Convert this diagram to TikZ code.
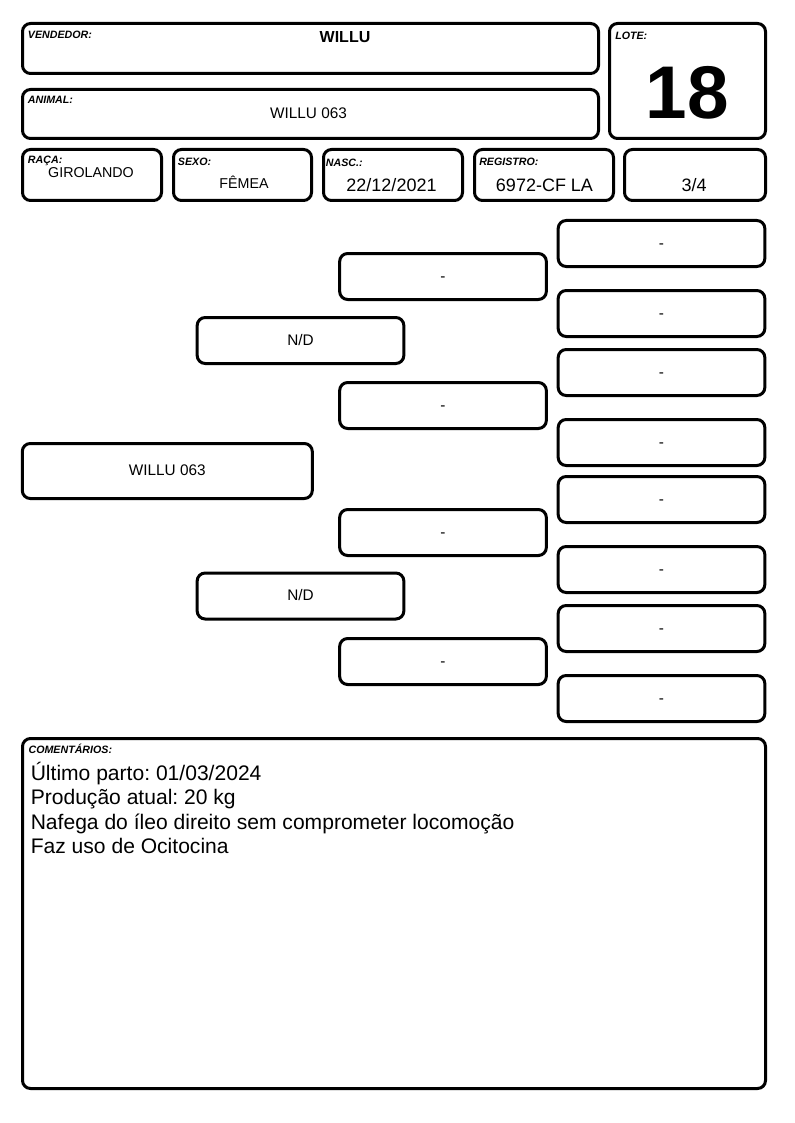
\documentclass[tikz,border=0pt]{standalone}
\usepackage{fontspec}
\setmainfont{Liberation Sans}
\frenchspacing
\begin{document}
\begin{tikzpicture}[x=0.75pt,y=-0.75pt,
  caixa/.style={draw, line width=2.25pt, rounded corners=6pt, inner sep=0pt},
  rotulo/.style={anchor=base west, inner sep=0pt, font=\fontsize{8}{9}\selectfont\bfseries\itshape},
  valor/.style={anchor=base, inner sep=0pt},
  arvore/.style={caixa, minimum width=155pt, minimum height=34.5pt, text height=0.72em, text depth=0pt, font=\fontsize{11.5}{13}\selectfont}]
\useasboundingbox (0,0) rectangle (794,1123);
% cabecalho
\node[caixa, minimum width=432pt, minimum height=37.5pt] (vendedor) at (310.5,48.5) {};
\node[caixa, minimum width=432pt, minimum height=36.75pt] (animal) at (310.5,114) {};
\node[caixa, minimum width=117pt, minimum height=86.25pt] (lote) at (687.5,81) {};
\node[caixa, minimum width=104.25pt, minimum height=38.25pt] (raca) at (92,175) {};
\node[caixa, minimum width=103.5pt, minimum height=38.25pt] (sexo) at (242.5,175) {};
\node[caixa, minimum width=104.25pt, minimum height=38.25pt] (nasc) at (393,175) {};
\node[caixa, minimum width=104.25pt, minimum height=38.25pt] (registro) at (544,175) {};
\node[caixa, minimum width=105.75pt, minimum height=38.25pt] (fracao) at (695,175) {};
\node[rotulo] (vendedorrot) at (27.7,39) {VENDEDOR:};
\node[rotulo] (animalrot) at (27.7,103.3) {ANIMAL:};
\node[rotulo] (loterot) at (615,39.5) {LOTE:};
\node[rotulo] (racarot) at (27.7,164) {RAÇA:};
\node[rotulo] (sexorot) at (177.7,166) {SEXO:};
\node[rotulo] (nascrot) at (325.7,166.5) {NASC.:};
\node[rotulo] (registrorot) at (479,165.5) {REGISTRO:};
\node[valor, font=\fontsize{12}{14}\selectfont\bfseries] (vendedorval) at (345,43) {WILLU};
\node[valor, font=\fontsize{11.5}{13}\selectfont] (animalval) at (308.5,119) {WILLU 063};
\node[valor, font=\fontsize{56}{60}\selectfont\bfseries] (loteval) at (687.5,119) {18};
\node[valor, font=\fontsize{10.7}{12}\selectfont] (racaval) at (91,178) {GIROLANDO};
\node[valor, font=\fontsize{10.7}{12}\selectfont] (sexoval) at (244,189) {FÊMEA};
\node[valor, font=\fontsize{13.5}{15}\selectfont] (nascval) at (391.5,192) {22/12/2021};
\node[valor, font=\fontsize{13.5}{15}\selectfont] (registroval) at (544.5,192) {6972-CF LA};
\node[valor, font=\fontsize{13.5}{15}\selectfont] (fracaoval) at (694,192) {3/4};
% genealogia
\node[arvore, minimum width=217.5pt, minimum height=41.25pt] (1) at (167.3,471) {WILLU 063};
\node[arvore] (2) at (300.5,340.5) {N/D};
\node[arvore] (3) at (300.5,596) {N/D};
\node[arvore] (4) at (443,276.5) {-};
\node[arvore] (5) at (443,405.5) {-};
\node[arvore] (6) at (443,532.5) {-};
\node[arvore] (7) at (443,661.5) {-};
\node[arvore] (8) at (661.5,243.5) {-};
\node[arvore] (9) at (661.5,313.5) {-};
\node[arvore] (10) at (661.5,372.5) {-};
\node[arvore] (11) at (661.5,442.5) {-};
\node[arvore] (12) at (661.5,499.5) {-};
\node[arvore] (13) at (661.5,569.5) {-};
\node[arvore] (14) at (661.5,628.5) {-};
\node[arvore] (15) at (661.5,698.5) {-};
% comentarios
\node[caixa, minimum width=557.25pt, minimum height=262.5pt] (comentarios) at (394,913.5) {};
\node[rotulo] (comentariosrot) at (28.3,753) {COMENTÁRIOS:};
\node[anchor=base west, inner sep=0pt, font=\fontsize{15.8}{18}\selectfont] (linha1) at (30.5,780.5) {Último parto: 01/03/2024};
\node[anchor=base west, inner sep=0pt, font=\fontsize{15.8}{18}\selectfont] (linha2) at (30.5,804.5) {Produção atual: 20 kg};
\node[anchor=base west, inner sep=0pt, font=\fontsize{15.8}{18}\selectfont] (linha3) at (30.5,829) {Nafega do íleo direito sem comprometer locomoção};
\node[anchor=base west, inner sep=0pt, font=\fontsize{15.8}{18}\selectfont] (linha4) at (30.5,853) {Faz uso de Ocitocina};
\end{tikzpicture}
\end{document}
